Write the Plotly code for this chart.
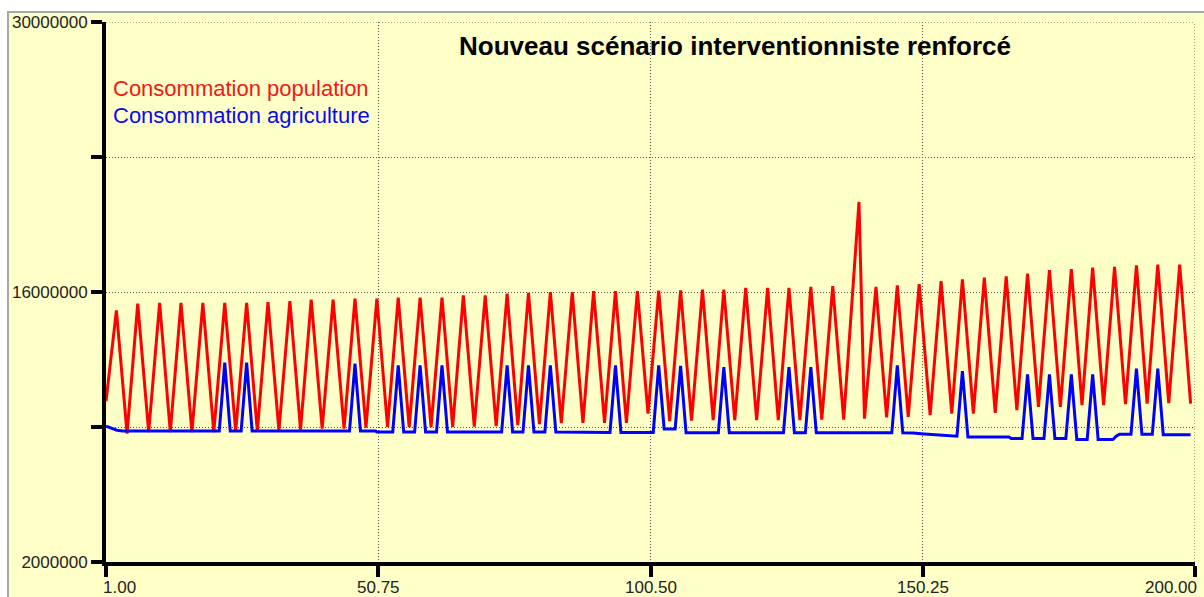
import plotly.graph_objects as go

# Consommation population: turning points of the seasonal cycle (time, value)
pop_t = [1.0, 2.9, 4.85, 6.8, 8.8, 10.8, 12.75, 14.7, 16.7, 18.7, 20.7, 22.7, 24.7, 26.7,
         28.65, 30.6, 32.6, 34.6, 36.55, 38.5, 40.5, 42.5, 44.5, 46.5, 48.5, 50.5, 52.45,
         54.4, 56.4, 58.4, 60.4, 62.4, 64.35, 66.3, 68.3, 70.3, 72.3, 74.3, 76.25, 78.2,
         80.2, 82.2, 84.2, 86.2, 88.15, 90.1, 92.1, 94.1, 96.1, 98.1, 100.05, 102.0, 104.0,
         106.0, 108.0, 110.0, 111.95, 113.9, 115.9, 117.9, 119.9, 121.9, 123.85, 125.8,
         127.8, 129.8, 131.8, 133.8, 135.8, 138.6, 139.6, 141.7, 143.65, 145.6, 147.6,
         149.6, 151.6, 153.6, 155.55, 157.5, 159.5, 161.5, 163.5, 165.5, 167.45, 169.4,
         171.4, 173.4, 175.4, 177.4, 179.35, 181.3, 183.3, 185.3, 187.3, 189.3, 191.25,
         193.2, 195.2, 197.2, 199.2]
pop_v = [10330000, 15050000, 8660000, 15400000, 8740000, 15430000, 8740000, 15430000,
         8740000, 15430000, 8740000, 15430000, 8790000, 15430000, 8790000, 15480000,
         8830000, 15530000, 8870000, 15610000, 8920000, 15610000, 8920000, 15660000,
         8970000, 15660000, 9000000, 15710000, 9000000, 15710000, 9000000, 15710000,
         9000000, 15830000, 9020000, 15830000, 9050000, 15920000, 9100000, 15950000,
         9150000, 16000000, 9200000, 16000000, 9210000, 16040000, 9210000, 16040000,
         9220000, 16040000, 9700000, 16070000, 9300000, 16090000, 9330000, 16120000,
         9350000, 16120000, 9350000, 16210000, 9350000, 16210000, 9350000, 16210000,
         9360000, 16260000, 9380000, 16300000, 9380000, 20670000, 9430000, 16260000,
         9500000, 16350000, 9520000, 16410000, 9610000, 16570000, 9690000, 16660000,
         9690000, 16750000, 9730000, 16810000, 9870000, 16950000, 10040000, 17130000,
         10040000, 17180000, 10130000, 17270000, 10130000, 17300000, 10180000, 17380000,
         10210000, 17420000, 10240000, 17420000, 10210000]

# Consommation agriculture: baseline and irrigation peaks (time, value)
agr_t = [1.0, 2.0, 3.0, 4.0,
         21.7, 22.7, 23.7, 25.7, 26.7, 27.7, 45.5, 46.5, 47.5, 50.3, 50.5,
         53.4, 54.4, 55.4, 57.4, 58.4, 59.4, 61.4, 62.4, 63.4,
         73.3, 74.3, 75.3, 77.2, 78.2, 79.2, 81.2, 82.2, 83.2,
         93.1, 94.1, 95.1, 101.0, 102.0, 103.0, 105.0, 106.0, 107.0,
         112.9, 113.9, 114.9, 124.8, 125.8, 126.8, 128.8, 129.8, 130.8,
         144.6, 145.6, 146.6, 148.5, 150.5, 152.5, 155.0, 156.5, 157.5, 158.5,
         166.0, 166.4, 168.4, 169.4, 170.4, 172.4, 173.4, 174.4, 176.4, 177.4, 178.4,
         180.3, 181.3, 182.3, 185.0, 185.6, 186.2, 188.3, 189.3, 190.3, 192.2, 193.2,
         194.2, 199.2]
agr_v = [9040000, 8920000, 8830000, 8790000,
         8790000, 12340000, 8790000, 8790000, 12340000, 8790000, 8790000, 12290000,
         8790000, 8790000, 8740000,
         8740000, 12200000, 8740000, 8740000, 12200000, 8740000, 8740000, 12200000,
         8740000,
         8740000, 12200000, 8740000, 8740000, 12200000, 8740000, 8740000, 12200000,
         8740000,
         8720000, 12200000, 8720000, 8720000, 12200000, 8900000, 8900000, 12170000,
         8700000,
         8700000, 12100000, 8700000, 8700000, 12100000, 8700000, 8700000, 12100000,
         8700000,
         8700000, 12200000, 8700000, 8690000, 8640000, 8600000, 8550000, 8520000,
         11900000, 8480000,
         8480000, 8400000, 8400000, 11730000, 8400000, 8400000, 11730000, 8400000,
         8400000, 11730000, 8350000,
         8350000, 11730000, 8350000, 8350000, 8520000, 8620000, 8620000, 12030000,
         8620000, 8620000, 12030000,
         8600000, 8600000]

x_ticks = [1.00, 50.75, 100.50, 150.25, 200.00]
x_labels = ["1.00", "50.75", "100.50", "150.25", "200.00"]
y_ticks = [2000000, 9000000, 16000000, 23000000, 30000000]
y_labels = ["2000000", "", "16000000", "", "30000000"]

title_text = "Nouveau scénario interventionniste renforcé"
pop_name = "Consommation population"
agr_name = "Consommation agriculture"

BG = "#FFFFC8"
GRID = "#555555"
FONT = "Arial, 'Liberation Sans', sans-serif"
W, H = 1204, 597
ML, MR, MT, MB = 106, 9, 22, 35
PW, PH = W - ML - MR, H - MT - MB


def px_x(p):
    """pixel column -> paper x"""
    return (p - ML) / PW


def px_y(p):
    """pixel row -> paper y"""
    return (H - MB - p) / PH


fig = go.Figure()
fig.add_trace(go.Scatter(x=pop_t, y=pop_v, mode="lines", name=pop_name,
                         line=dict(color="#FF0000", width=3)))
fig.add_trace(go.Scatter(x=agr_t, y=agr_v, mode="lines", name=agr_name,
                         line=dict(color="#0000FF", width=3)))

annotations = []
for i, (v, lab) in enumerate(zip(x_ticks, x_labels)):
    if i == 0:
        anchor, shift = "left", -5
    elif i == len(x_ticks) - 1:
        anchor, shift = "right", 4
    else:
        anchor, shift = "center", 0
    annotations.append(dict(x=v, xref="x", y=0, yref="paper", text=lab,
                            showarrow=False, xanchor=anchor, yanchor="middle",
                            xshift=shift, yshift=-25,
                            font=dict(family=FONT, size=17, color="#222222")))

annotations.append(dict(x=px_x(735), y=px_y(46), xref="paper", yref="paper",
                        text="<b>" + title_text + "</b>", showarrow=False,
                        xanchor="center", yanchor="middle",
                        font=dict(family=FONT, size=26, color="#000000")))
annotations.append(dict(x=px_x(111), y=px_y(88), xref="paper", yref="paper",
                        text=pop_name, showarrow=False, xanchor="left",
                        yanchor="middle",
                        font=dict(family=FONT, size=22, color="#F01818")))
annotations.append(dict(x=px_x(111), y=px_y(116), xref="paper", yref="paper",
                        text=agr_name, showarrow=False, xanchor="left",
                        yanchor="middle",
                        font=dict(family=FONT, size=22, color="#0A0AF0")))

shapes = [
    # yellow frame with a thin grey border
    dict(type="rect", xref="paper", yref="paper", layer="below",
         x0=px_x(8), x1=px_x(W + 10), y0=px_y(12), y1=px_y(H + 10),
         fillcolor=BG, line=dict(color="#A8A8A8", width=2)),
    # dotted grid lines along the top and right edges of the plot area
    dict(type="line", xref="paper", yref="y", x0=0, x1=1,
         y0=y_ticks[-1], y1=y_ticks[-1], layer="below",
         line=dict(color=GRID, width=1, dash="1px,2px")),
    dict(type="line", xref="x", yref="paper", x0=x_ticks[-1], x1=x_ticks[-1],
         y0=0, y1=1, layer="below",
         line=dict(color=GRID, width=1, dash="1px,2px")),
]

grid = dict(showgrid=True, gridcolor=GRID, gridwidth=1, griddash="1px,2px")

fig.update_layout(
    width=W, height=H, autosize=False,
    margin=dict(l=ML, r=MR, t=MT, b=MB, pad=0),
    paper_bgcolor="#FFFFFF", plot_bgcolor=BG,
    showlegend=False,
    annotations=annotations, shapes=shapes,
    xaxis=dict(range=[1, 200], tickvals=x_ticks, showticklabels=False,
               showline=True, linecolor="#000000", linewidth=4,
               ticks="outside", ticklen=11, tickwidth=4, tickcolor="#000000",
               zeroline=False, **grid),
    yaxis=dict(range=[2000000, 30000000], tickvals=y_ticks, ticktext=y_labels,
               showline=True, linecolor="#000000", linewidth=4,
               ticks="outside", ticklen=11, tickwidth=4, tickcolor="#000000",
               tickfont=dict(family=FONT, size=17, color="#222222"),
               zeroline=False, **grid),
)

fig.write_html("out.html")
